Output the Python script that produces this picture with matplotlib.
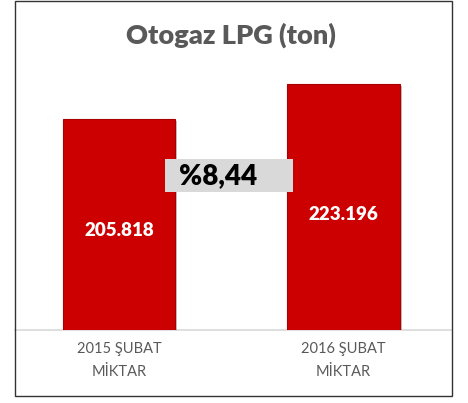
import matplotlib.pyplot as plt
from matplotlib.patches import Rectangle
import matplotlib.patheffects as pe

categories = ['2015 ŞUBAT\nMİKTAR', '2016 ŞUBAT\nMİKTAR']
values = [205818, 223196]
value_labels = ['205.818', '223.196']
change_label = '%8,44'
title = 'Otogaz LPG (ton)'

plt.rcParams['font.family'] = ['Lato', 'DejaVu Sans']

W, H = 468, 403
fig = plt.figure(figsize=(W / 100, H / 100), dpi=100)

# chart border
fig.patches.append(Rectangle((15 / W, 1 - 396 / H), 437 / W, 395.5 / H,
                             transform=fig.transFigure, fill=False,
                             edgecolor='#333333', linewidth=1.0))

ax = fig.add_axes([15 / W, 1 - 330 / H, 437 / W, 270 / H])
x = [0, 1]
bars = ax.bar(x, values, width=0.5, color='#cc0000', edgecolor='#a80000',
              linewidth=0.8, zorder=3)
for b in bars:
    b.set_path_effects([pe.SimplePatchShadow(offset=(1.5, -1.5), alpha=0.25),
                        pe.Normal()])

ax.set_xlim(-0.463, 1.483)
ax.set_ylim(100000, 235400)

for xi, v, lab in zip(x, values, value_labels):
    ax.text(xi, 100000 + (v - 100000) * 0.47, lab, ha='center', va='center',
            color='white', fontsize=13.5, fontweight='heavy', zorder=4)

ax.set_xticks(x)
ax.set_xticklabels(categories, color='#595959', fontsize=10.5, linespacing=1.75)
ax.tick_params(axis='x', length=0, pad=9)
ax.set_yticks([])
for s in ['top', 'left', 'right']:
    ax.spines[s].set_visible(False)
ax.spines['bottom'].set_color('#d9d9d9')
ax.spines['bottom'].set_linewidth(1.2)

# change label box
fig.patches.append(Rectangle((165 / W, 1 - 192 / H), 128 / W, 33 / H,
                             transform=fig.transFigure, facecolor='#d9d9d9',
                             edgecolor='none', zorder=5))
fig.text(179 / W, 1 - 176 / H, change_label, ha='left', va='center',
         fontsize=20, fontweight='heavy', color='black', zorder=6)

fig.text(231 / W, 1 - 35 / H, title, ha='center', va='center',
         fontsize=19.5, fontweight='heavy', color='#595959')

fig.savefig('out.png', dpi=100)
